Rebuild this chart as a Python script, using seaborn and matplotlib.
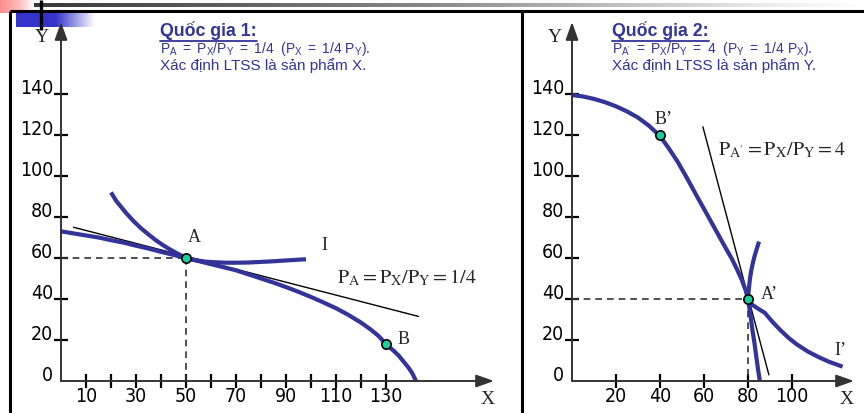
import matplotlib
matplotlib.use("Agg")
import matplotlib.pyplot as plt
import numpy as np
import seaborn as sns
from matplotlib.colors import to_rgb

# ---------------- Country 1 ----------------
ppf1_x = [0, 5, 10, 15, 20, 25, 30, 35, 40, 45, 50, 55, 60, 65, 70, 75, 80, 85, 90, 95,
          100, 105, 110, 115, 120, 124, 127, 130, 133, 135, 137, 139, 140.5, 142]
ppf1_y = [73, 72, 71, 70, 68.7, 67.5, 66, 64.6, 63, 61.5, 60, 58.5, 57, 55.5, 54, 52, 50,
          48, 45.8, 43.5, 41, 38.3, 35.5, 32.2, 28.5, 25, 22, 18, 14.8, 12.5, 9.5, 6.5, 3.8, 0]

ind1_x = [20, 22, 24, 26, 29, 32, 35, 38, 41, 44, 47, 50, 54, 58, 62, 66, 70, 75, 80, 85,
          90, 94, 98]
ind1_y = [92, 88, 85, 82, 78, 74.5, 71.5, 68.6, 66.1, 63.9, 61.9, 60, 58.9, 58.2, 57.9,
          57.7, 57.7, 57.8, 58.1, 58.4, 58.8, 59.1, 59.4]

tan1_x = [5, 143]
tan1_y = [75, 31.5]

pt1_x = [50, 130]
pt1_y = [60, 18]

x1_ticks = [10, 20, 30, 40, 50, 60, 70, 80, 90, 100, 110, 120, 130]
x1_labels = ["10", "", "30", "", "50", "", "70", "", "90", "", "110", "", "130"]
y_ticks = [0, 20, 40, 60, 80, 100, 120, 140]

# ---------------- Country 2 ----------------
ppf2_x = [0, 5, 10, 15, 20, 25, 30, 35, 40, 44, 48, 52, 56.6, 61, 65.4, 69, 72.7, 75,
          77.3, 79, 80, 81, 82, 83, 84, 84.8, 85.4]
ppf2_y = [139.5, 138.8, 137.6, 136, 134, 131.5, 128.5, 124.5, 119.5, 113.5, 107, 99.5,
          90.5, 82, 73.5, 66.5, 59.5, 54.5, 49, 44, 40, 33, 25, 18, 10, 4, 0]

ind2_x = [85, 84, 83, 82.2, 81.5, 80.9, 80.4, 80, 80.8, 82.5, 85, 87.6, 91, 95, 98.5,
          102, 107, 112, 117, 123]
ind2_y = [68, 64.5, 61, 57.5, 54, 50, 45, 40, 38.2, 36.8, 35, 33.3, 29, 24.5, 21, 18,
          14.5, 11.7, 9.3, 7]

tan2_x = [59.5, 89.5]
tan2_y = [124, 3]

pt2_x = [40, 80]
pt2_y = [120, 40]

x2_ticks = [20, 40, 60, 80, 100]

NAVY = "#333399"
DOT = "#1ccf9e"

sns.set_theme(style="white")
plt.rcParams["font.family"] = ["Liberation Sans", "DejaVu Sans"]
plt.rcParams["mathtext.fontset"] = "custom"
plt.rcParams["mathtext.rm"] = "Liberation Sans"
plt.rcParams["mathtext.it"] = "Liberation Sans:italic"
plt.rcParams["mathtext.bf"] = "Liberation Sans:bold"

W, H = 864, 413
fig = plt.figure(figsize=(W / 100, H / 100), dpi=100)

# full-figure layer in pixel units for the slide frame and headings
bg = fig.add_axes([0, 0, 1, 1], zorder=0)
bg.set_xlim(0, W)
bg.set_ylim(H, 0)
bg.axis("off")


def hgrad(ax, x0, x1, y0, y1, stops):
    n = 256
    t = np.linspace(0, 1, n)
    pos = [s[0] for s in stops]
    cols = np.array([to_rgb(s[1]) for s in stops])
    img = np.stack([np.interp(t, pos, cols[:, k]) for k in range(3)], axis=-1)
    ax.imshow(img[None, :, :], extent=(x0, x1, y1, y0), aspect="auto",
              interpolation="bilinear", zorder=1)


hgrad(bg, 5, W, 4, 7.5, [(0, "#333333"), (0.5, "#8a8a8a"), (0.9, "#eeeeee"), (1, "#ffffff")])
hgrad(bg, 0, 34, 0, 13, [(0, "#ff8c8c"), (0.6, "#ffc0c0"), (1, "#ffffff")])
hgrad(bg, 16, 95, 13.5, 27, [(0, "#3434cc"), (0.5, "#3434cc"), (1, "#ffffff")])
bg.plot([40.5, 40.5], [0, 30], color="black", lw=2.4, zorder=3, solid_capstyle="butt")

frame_kw = dict(color="black", lw=2.2, zorder=3, solid_capstyle="butt")
bg.plot([10, W], [11, 11], **frame_kw)
bg.plot([10, 10], [11, H], **frame_kw)
bg.plot([522, 522], [11, H], **frame_kw)

serif = ["Liberation Serif", "DejaVu Serif"]
for x, y, s in [(42, 38, "Y"), (555, 38, "Y"), (488, 400, "X"), (847, 400, "X")]:
    bg.text(x, y, s, fontsize=14, family=serif, ha="center", va="center", zorder=4)

titles = []
heads = [
    (160, "Quốc gia 1:",
     r"$\mathrm{P_A\ =\ P_X/P_Y\ =\ 1/4\ \ (P_X\ =\ 1/4\ P_Y).}$",
     "Xác định LTSS là sản phẩm X."),
    (612, "Quốc gia 2:",
     r"$\mathrm{P_{A'}\ =\ P_X/P_Y\ =\ 4\ \ (P_Y\ =\ 1/4\ P_X).}$",
     "Xác định LTSS là sản phẩm Y."),
]
for x, t1, t2, t3 in heads:
    titles.append(bg.text(x, 36, t1, fontsize=12.8, fontweight="bold", color=NAVY,
                          ha="left", va="baseline", zorder=4))
    bg.text(x, 52.5, t2, fontsize=10, color=NAVY, ha="left", va="baseline", zorder=4)
    bg.text(x, 70, t3, fontsize=11, color=NAVY, ha="left", va="baseline", zorder=4)


def px_rect(x0, x1, ytop, ybot=381):
    return [x0 / W, 1 - ybot / H, (x1 - x0) / W, (ybot - ytop) / H]


ax1 = fig.add_axes(px_rect(61, 494, 22), zorder=2)
ax2 = fig.add_axes(px_rect(572, 854, 22), zorder=2)
ax1.set_xlim(0, (494 - 61) / 2.5)
ax2.set_xlim(0, (854 - 572) / 2.2)
for ax in (ax1, ax2):
    ax.set_ylim(0, (381 - 22) / 2.05)
    ax.set_facecolor("none")
    for sp in ax.spines.values():
        sp.set_visible(False)
    arrow = dict(arrowstyle="-|>,head_length=0.9,head_width=0.32", color="#333333",
                 lw=1.4, shrinkA=0, shrinkB=0, mutation_scale=12)
    ax.annotate("", xy=(1, 0), xytext=(0, 0), xycoords="axes fraction",
                arrowprops=arrow, annotation_clip=False)
    ax.annotate("", xy=(0, 1), xytext=(0, 0), xycoords="axes fraction",
                arrowprops=arrow, annotation_clip=False)
    ax.set_yticks(y_ticks)
    ax.set_yticklabels([str(v) for v in y_ticks])
    ax.tick_params(axis="both", which="major", direction="inout", length=10.5,
                   width=1.6, color="black", bottom=True, left=True,
                   labelsize=14, labelcolor="black")
    ax.tick_params(axis="y", pad=0.5)
    ax.tick_params(axis="x", pad=-1)
    ax.yaxis.get_major_ticks()[0].tick1line.set_visible(False)
    for lbl in ax.get_yticklabels():
        lbl.set_verticalalignment("baseline")
    ax.set_xlabel("")
    ax.set_ylabel("")

ax1.set_xticks(x1_ticks)
ax1.set_xticklabels(x1_labels)
ax2.set_xticks(x2_ticks)
ax2.set_xticklabels([str(v) for v in x2_ticks])
for ax in (ax1, ax2):
    for lbl in ax.get_xticklabels() + ax.get_yticklabels():
        lbl.set_fontfamily("DejaVu Sans")
        lbl.set_fontstretch("condensed")

dash = dict(color="#333333", lw=1.2, dashes=(4, 3), estimator=None)
curve = dict(color=NAVY, lw=3, sort=False, estimator=None,
             solid_joinstyle="round", solid_capstyle="butt")

# ---- Country 1 drawing ----
sns.lineplot(x=[0, pt1_x[0]], y=[pt1_y[0], pt1_y[0]], ax=ax1, **dash)
sns.lineplot(x=[pt1_x[0], pt1_x[0]], y=[pt1_y[0], 0], ax=ax1, sort=False, **dash)
sns.lineplot(x=tan1_x, y=tan1_y, ax=ax1, color="black", lw=1.0, estimator=None)
sns.lineplot(x=ppf1_x, y=ppf1_y, ax=ax1, **curve)
sns.lineplot(x=ind1_x, y=ind1_y, ax=ax1, **curve)
sns.scatterplot(x=pt1_x, y=pt1_y, ax=ax1, s=45, color=DOT, edgecolor="black",
                linewidth=1.2, zorder=5)

ax1.text(53.2, 69.8, "A", fontsize=13, family=serif, ha="center", va="center")
ax1.text(105.4, 66, "I", fontsize=13, family=serif, ha="center", va="center")
ax1.text(137, 20.2, "B", fontsize=13, family=serif, ha="center", va="center")
ax1.text(110.4, 47.8, r"$\mathrm{P_A = P_X/P_Y = 1/4}$", fontsize=14.5,
         math_fontfamily="stix", ha="left", va="baseline")

# ---- Country 2 drawing ----
sns.lineplot(x=[0, pt2_x[1]], y=[pt2_y[1], pt2_y[1]], ax=ax2, **dash)
sns.lineplot(x=[pt2_x[1], pt2_x[1]], y=[pt2_y[1], 0], ax=ax2, sort=False, **dash)
sns.lineplot(x=tan2_x, y=tan2_y, ax=ax2, color="black", lw=1.0, estimator=None)
sns.lineplot(x=ppf2_x, y=ppf2_y, ax=ax2, **curve)
sns.lineplot(x=ind2_x, y=ind2_y, ax=ax2, **curve)
sns.scatterplot(x=pt2_x, y=pt2_y, ax=ax2, s=45, color=DOT, edgecolor="black",
                linewidth=1.2, zorder=5)

ax2.text(41.8, 127.8, "B\u2019", fontsize=13, family=serif, ha="center", va="center")
ax2.text(89.8, 42.2, "A\u2019", fontsize=13, family=serif, ha="center", va="center")
ax2.text(121.8, 15.1, "I\u2019", fontsize=13, family=serif, ha="center", va="center")
ax2.text(66.4, 110.2, r"$\mathrm{P_{A'} = P_X/P_Y = 4}$", fontsize=14.5,
         math_fontfamily="stix", ha="left", va="baseline")

for ax in (ax1, ax2):
    if ax.get_legend() is not None:
        ax.get_legend().remove()

# underline the two headings
fig.canvas.draw()
inv = bg.transData.inverted()
for t in titles:
    bb = t.get_window_extent()
    (xa, _), (xb, _) = inv.transform([[bb.x0, bb.y0], [bb.x1, bb.y1]])
    bg.plot([xa, xb], [40.7, 40.7], color=NAVY, lw=1.3, zorder=4)

fig.savefig("out.png", dpi=100)
